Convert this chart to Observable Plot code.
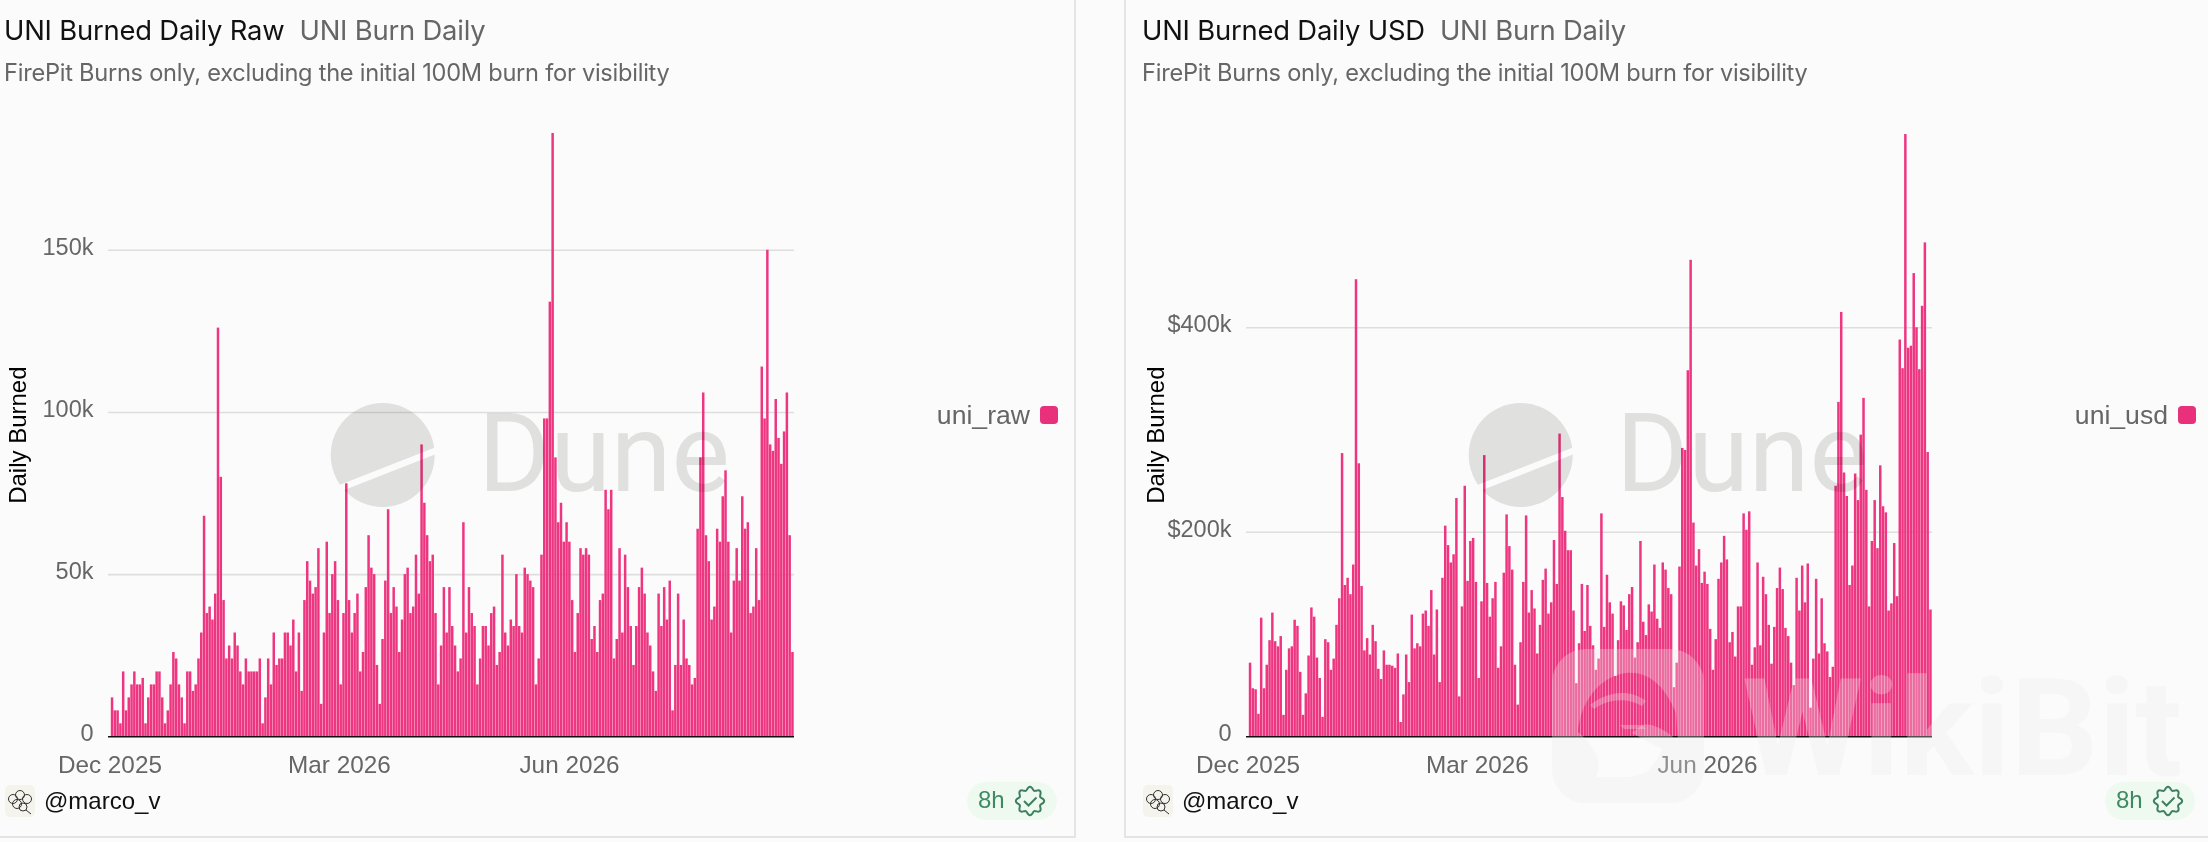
<!DOCTYPE html>
<html><head><meta charset="utf-8">
<script src="https://cdn.jsdelivr.net/npm/d3@7"></script>
<script src="https://cdn.jsdelivr.net/npm/@observablehq/plot@0.6"></script>
<style>
html,body{margin:0;padding:0;background:#fbfbfb;width:2208px;height:842px;overflow:hidden}
#root{position:relative;width:2208px;height:842px;font-family:"Liberation Sans",Arial,sans-serif}
.abs{position:absolute;white-space:nowrap}
.title{font-family:Inter;font-size:27.4px;line-height:30px;top:15px;color:#111;letter-spacing:-.2px}
.sub{font-family:Inter;font-size:23.6px;line-height:26px;top:60px;color:#666;letter-spacing:-.25px}
.wm{pointer-events:none;mix-blend-mode:multiply}
svg{overflow:visible}
</style></head><body><div id="root"></div>
<script>
const uniRaw = [12,8,8,4,20,8,12,16,20,16,16,18,4,12,16,16,20,20,12,4,8,16,26,24,16,12,4,20,20,14,16,24,32,68,38,40,36,44,126,80,42,24,28,24,32,28,20,16,24,20,20,20,20,24,4,12,24,16,32,22,24,24,32,32,28,36,20,32,14,42,54,48,44,46,58,10,32,60,38,50,54,42,16,38,78,42,32,38,44,20,26,46,62,52,50,22,10,30,48,70,38,46,40,26,36,50,52,38,40,56,44,
90,72,62,54,56,38,16,28,46,32,46,34,28,20,24,66,32,46,38,34,16,24,34,34,28,38,40,22,26,56,32,28,36,34,50,34,32,52,50,48,46,16,24,56,98,98,134,186,86,66,72,60,66,60,42,26,38,58,56,58,56,30,34,26,42,44,76,70,76,24,30,58,32,56,46,34,22,34,46,52,44,32,28,20,14,44,34,46,36,48,8,22,44,22,36,24,22,16,18,64,86,106,62,54,36,40,64,60,74,82,60,32,48,58,48,74,64,66,38,40,58,42,114,98,150,90,88,104,92,84,94,106,62,26];
const uniUsd = [72,47,46,22,116,47,70,94,121,93,88,98,21,65,86,88,114,108,63,21,42,79,126,117,77,57,19,95,92,65,76,109,135,277,148,155,139,168,447,267,147,84,96,80,109,93,66,56,84,70,70,69,67,81,14,41,80,53,119,86,91,88,120,123,108,143,80,124,53,155,206,187,170,178,233,39,127,245,152,191,194,151,57,132,275,150,117,135,151,67,88,160,217,186,163,70,31,92,151,216,121,143,125,
81,109,153,164,120,131,192,149,296,234,201,182,182,123,52,91,149,103,148,108,89,65,76,218,107,158,131,120,59,94,132,128,104,139,146,77,92,191,112,99,129,122,168,115,106,170,163,145,139,48,72,166,282,280,358,466,209,167,183,150,161,149,105,65,95,154,170,196,173,92,102,78,127,127,218,202,220,70,87,170,89,156,139,109,71,107,145,165,144,106,98,72,50,155,123,167,131,169,28,76,154,81,135,91,83,58,68,245,327,415,258,235,148,167,257,231,295,331,241,127,191,231,184,265,225,219,123,130,189,137,388,360,589,380,382,453,400,359,421,483,278,124];
const tickLabels = ["Dec 2025","Mar 2026","Jun 2026"];
const tickPositions = [-0.5,81.8,164.3];
const rawTicks = [0,50,100,150];
const usdTicks = [0,200,400];
const panels = [
  {off:0,values:uniRaw,ticks:rawTicks,top:186,fmt:d=>d===0?"0":d+"k",name:"uni_raw",title:"UNI Burned Daily Raw",q:"UNI Burn Daily"},
  {off:1138,values:uniUsd,ticks:usdTicks,top:590,fmt:d=>d===0?"0":"$"+d+"k",name:"uni_usd",title:"UNI Burned Daily USD",q:"UNI Burn Daily"}
];
const subtitle = "FirePit Burns only, excluding the initial 100M burn for visibility";
const PINK = "#ee3580";
const root = document.getElementById("root");
function el(html){const t=document.createElement("div");t.innerHTML=html;const e=t.firstElementChild;root.appendChild(e);return e;}

// panel borders
el('<div class="abs" style="left:0;top:836px;width:1075px;height:2px;background:#e4e4e4"></div>');
el('<div class="abs" style="left:1074px;top:0;width:2px;height:838px;background:#e4e4e4"></div>');
el('<div class="abs" style="left:1124px;top:0;width:2px;height:838px;background:#e4e4e4"></div>');
el('<div class="abs" style="left:1125px;top:836px;width:1083px;height:2px;background:#e4e4e4"></div>');

const scallop = (cx,cy)=>{const pts=d3.range(0,48).map(i=>{const a=i/48*2*Math.PI;const r=12.6+1.6*Math.cos(8*a);return [cx+r*Math.sin(a),cy-r*Math.cos(a)]});return d3.line().curve(d3.curveCardinalClosed)(pts)};

for(const p of panels){
  const rows = p.values.map((v,i)=>({a:i,b:i+1,v}));
  const chart = Plot.plot({
    width:800,height:842,marginLeft:108,marginRight:6,marginTop:133,marginBottom:105.7,
    style:{background:"transparent",fontFamily:'"Liberation Sans",Arial,sans-serif',overflow:"visible"},
    x:{type:"linear",domain:[-1,p.values.length]},
    y:{domain:[0,p.top]},
    marks:[
      Plot.gridY(p.ticks.filter(d=>d>0),{stroke:"#dedede",strokeOpacity:1,strokeWidth:1.6}),
      Plot.rect(rows,{x1:"a",x2:"b",y1:()=>0,y2:"v",fill:PINK,insetRight:.3}),
      Plot.ruleY([0],{stroke:"#111",strokeWidth:1.6}),
      Plot.axisY({ticks:p.ticks,tickFormat:p.fmt,tickSize:0,tickPadding:15,fontSize:23.5,fill:"#666",dy:-3,label:null}),
      Plot.axisX({ticks:tickPositions,tickFormat:(d,i)=>tickLabels[tickPositions.indexOf(d)],tickSize:0,tickPadding:19,fontSize:24.3,fill:"#666",label:null}),
      Plot.text(["Daily Burned"],{frameAnchor:"left",textAnchor:"middle",dx:-90,rotate:-90,fontSize:24,fill:"#000"})
    ]
  });
  chart.style.position="absolute";chart.style.left=p.off+"px";chart.style.top="0";chart.style.maxWidth="none";
  root.appendChild(chart);

  el(`<div class="abs title" style="left:${p.off+4}px">${p.title}<span style="color:#666;margin-left:15px">${p.q}</span></div>`);
  el(`<div class="abs sub" style="left:${p.off+4}px">${subtitle}</div>`);

  // legend
  el(`<div class="abs" style="left:${p.off+830}px;width:200px;top:402px;text-align:right;font-size:26.6px;line-height:27px;color:#666">${p.name}</div>`);
  el(`<div class="abs" style="left:${p.off+1040}px;top:406px;width:18px;height:18px;border-radius:4px;background:#e8317a"></div>`);

  // footer
  el(`<div class="abs" style="left:${p.off+5}px;top:785px;width:30px;height:32px;border-radius:5px;background:#f4f3ec"></div>`);
  el(`<svg class="abs" style="left:${p.off+5}px;top:785px" width="30" height="32" viewBox="0 0 30 32" fill="none" stroke="#333" stroke-width="1"><circle cx="15" cy="10" r="4.5"/><circle cx="8" cy="14" r="4.5"/><circle cx="22" cy="14" r="4.5"/><circle cx="12" cy="19" r="4.5"/><circle cx="18" cy="22" r="4"/><path d="M21 25l5 4"/></svg>`);
  el(`<div class="abs" style="left:${p.off+44}px;top:787px;font-size:24px;line-height:28px;color:#111">@marco_v</div>`);
  el(`<div class="abs" style="left:${p.off+967}px;top:782px;width:90px;height:38px;border-radius:19px;background:#eefaf0"></div>`);
  el(`<div class="abs" style="left:${p.off+978}px;top:786px;font-size:24px;line-height:28px;color:#3f8a63">8h</div>`);
  el(`<svg class="abs" style="left:${p.off}px;top:0" width="1100" height="842" fill="none"><path d="${scallop(1030,801)}" stroke="#3f7f60" stroke-width="2"/><path d="M1024 801l4.5 4.5l8-8" stroke="#3f7f60" stroke-width="2"/></svg>`);

  // Dune watermark
  el(`<svg class="abs wm" style="left:${p.off}px;top:0" width="800" height="842"><defs><mask id="m${p.off}"><rect width="800" height="842" fill="#fff"/><path d="M338 489L440 449" stroke="#000" stroke-width="6.5"/></mask></defs><circle cx="382.7" cy="455" r="52" fill="#e4e4e2" mask="url(#m${p.off})"/></svg>`);
  el(`<div class="abs wm" style="left:${p.off+478}px;top:390px;font-family:Roboto;font-size:110px;line-height:128px;color:#e4e4e2">Dune</div>`);
}

// WikiBit watermark
el(`<svg class="abs" style="left:0;top:0;pointer-events:none" width="2208" height="842"><path fill-rule="evenodd" fill="rgba(236,236,236,.3)" d="M1586 649h84a34 34 0 0 1 34 34v86a34 34 0 0 1-34 34h-84a34 34 0 0 1-34-34v-86a34 34 0 0 1 34-34z M1578 732c2-30 22-56 48-59c20-2 38 10 50 40l2 28c-14-12-26-18-36-16l-10 8l30 16c-8 18-16 28-36 28h-30c6-14 2-28-18-45z"/><path fill="rgba(236,236,236,.3)" d="M1590 705c18-14 40-16 56-4l-4 5c-14-8-32-8-48 3z M1620 725h22l4 4h-22z"/><text x="1742" y="775" font-family="Roboto" font-weight="700" font-size="136" fill="rgba(236,236,236,.3)" textLength="440" lengthAdjust="spacingAndGlyphs">WikiBit</text></svg>`);
</script></body></html>
